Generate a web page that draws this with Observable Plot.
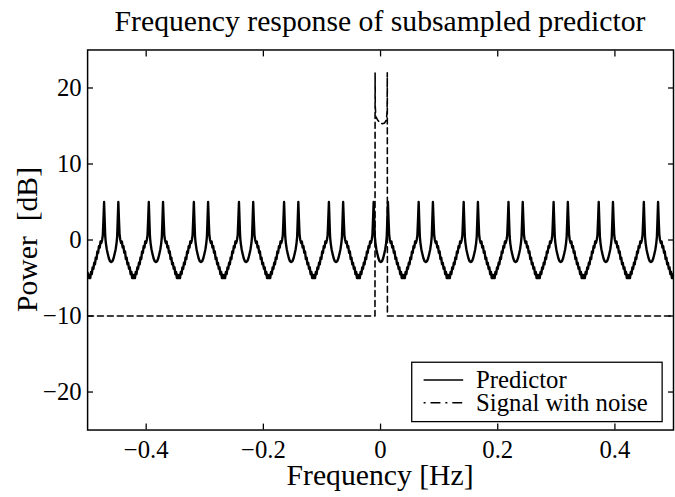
<!DOCTYPE html>
<html>
<head>
<meta charset="utf-8">
<script src="https://cdn.jsdelivr.net/npm/d3@7"></script>
<script src="https://cdn.jsdelivr.net/npm/@observablehq/plot@0.6"></script>
<style>
  html, body { margin: 0; padding: 0; background: #fff; overflow: hidden; }
  #chart { width: 675px; height: 497px; overflow: hidden; }
</style>
</head>
<body>
<div id="chart"></div>
<script>
// ---- text ----
const titleText = "Frequency response of subsampled predictor";
const xLabel = "Frequency [Hz]";
const yLabel = "Power  [dB]";
const legendLabels = ["Predictor", "Signal with noise"];

// ---- ticks ----
const xTicks = [-0.4, -0.2, 0, 0.2, 0.4];
const yTicks = [-20, -10, 0, 10, 20];

// ---- predictor: centres of the 13 peak pairs (Hz) ----
const pairCenters = [-0.4597, -0.3834, -0.3065, -0.2295, -0.1525, -0.0760, 0.0004,
                     0.0772, 0.1540, 0.2305, 0.3075, 0.3845, 0.4615];
// shape of one pair around its centre (offset in Hz, power in dB)
const shapeOffsets = [
  -0.03781, -0.03713, -0.03578, -0.03443, -0.03308, -0.03173, -0.03038, -0.02903, -0.02768,
  -0.02633, -0.02498, -0.02363, -0.02228, -0.02093, -0.01958, -0.01823, -0.01688, -0.01553,
  -0.01435, -0.01333, -0.01215, -0.01097, -0.01013, -0.00911, -0.0076, -0.00591, -0.00405,
  -0.00203, 0,
  0.00203, 0.00405, 0.00591, 0.0076, 0.00911, 0.01013, 0.01097, 0.01215, 0.01333,
  0.01435, 0.01553, 0.01688, 0.01823, 0.01958, 0.02093, 0.02228, 0.02363, 0.02498,
  0.02633, 0.02768, 0.02903, 0.03038, 0.03173, 0.03308, 0.03443, 0.03578, 0.03713, 0.03781];
const shapeDb = [
  -5.0, -4.6, -5.0, -4.2, -4.5, -3.6, -3.8, -3.0, -3.2,
  -2.3, -2.5, -1.5, -1.7, -0.8, -1.0, -0.2, -0.4, 0.0,
  0.6, 2.5, 5.0, 2.2, 0.4, -0.4, -1.2, -1.8, -2.4,
  -2.8, -2.9,
  -2.8, -2.4, -1.8, -1.2, -0.4, 0.4, 2.2, 5.0, 2.5,
  0.6, 0.0, -0.4, -0.2, -1.0, -0.8, -1.7, -1.5, -2.5,
  -2.3, -3.2, -3.0, -3.8, -3.6, -4.5, -4.2, -5.0, -4.6, -5.0];
const predictorEdgeF = [-0.5, 0.5];
const predictorEdgeDb = [-4.3, -4.5];

// ---- signal with noise ----
const signalF  = [-0.5, -0.0095, -0.0093, -0.0090, -0.0080, -0.0050, -0.0010, 0.0030, 0.0070, 0.0100, 0.0112, 0.0115, 0.0117, 0.5];
const signalDb = [-10, -10, 22, 17.5, 16.2, 15.8, 15.4, 15.3, 15.4, 15.8, 17, 22, -10, -10];

// ---- tables ----
const predRows = [];
pairCenters.forEach(c => shapeOffsets.forEach((o, i) => predRows.push({f: c + o, p: shapeDb[i]})));
predictorEdgeF.forEach((f, i) => predRows.push({f, p: predictorEdgeDb[i]}));
predRows.sort((a, b) => a.f - b.f);
const sigRows = signalF.map((f, i) => ({f, p: signalDb[i]}));

const fmt = d => (d < 0 ? "\u2212" + Math.abs(d) : String(d));
const font = "'Liberation Serif', 'Times New Roman', Times, serif";

const chart = Plot.plot({
  width: 682,
  height: 497,
  marginLeft: 88,
  marginRight: 2,
  marginTop: 50,
  marginBottom: 63,
  style: {fontFamily: font, fontSize: "25px", background: "white", color: "black", overflow: "visible"},
  x: {domain: [-0.5, 0.5]},
  y: {domain: [-25, 25]},
  marks: [
    Plot.line(sigRows, {x: "f", y: "p", stroke: "black", strokeWidth: 1.6, strokeDasharray: "6,4", clip: true}),
    Plot.line(predRows, {x: "f", y: "p", stroke: "black", strokeWidth: 2.4, strokeLinejoin: "round", clip: true}),
    Plot.frame({stroke: "black", strokeWidth: 1.5}),
    Plot.axisX(xTicks, {anchor: "bottom", tickSize: -6, tickPadding: 17, tickFormat: fmt, label: null, fontSize: 25, strokeWidth: 1.3}),
    Plot.axisX(xTicks, {anchor: "top", tickSize: -6, tickFormat: () => "", label: null, strokeWidth: 1.3}),
    Plot.axisY(yTicks, {anchor: "left", tickSize: -6, tickPadding: 12, tickFormat: fmt, label: null, fontSize: 25, strokeWidth: 1.3}),
    Plot.axisY(yTicks, {anchor: "right", tickSize: -6, tickFormat: () => "", label: null, strokeWidth: 1.3})
  ]
});

document.getElementById("chart").appendChild(chart);

const svg = d3.select(chart);
const xs = chart.scale("x");
const ys = chart.scale("y");
const cx = xs.apply(0);

svg.append("text")
  .attr("x", cx).attr("y", 31)
  .attr("text-anchor", "middle")
  .attr("font-family", font).attr("font-size", 30)
  .attr("fill", "black")
  .text(titleText);

svg.append("text")
  .attr("x", cx).attr("y", 490)
  .attr("text-anchor", "middle")
  .attr("font-family", font).attr("font-size", 30)
  .attr("fill", "black")
  .text(xLabel);

svg.append("text")
  .attr("transform", `translate(37, ${ys.apply(0)}) rotate(-90)`)
  .attr("text-anchor", "middle")
  .attr("font-family", font).attr("font-size", 30)
  .attr("fill", "black")
  .attr("xml:space", "preserve")
  .style("white-space", "pre")
  .text(yLabel);

// legend
const lg = svg.append("g").attr("text-anchor", "start");
lg.append("rect")
  .attr("x", 416).attr("y", 366).attr("width", 253).attr("height", 60)
  .attr("fill", "white").attr("stroke", "black").attr("stroke-width", 1.3);
const rowsY = [384, 407];
const dashes = [null, "2,5,10,5"];
legendLabels.forEach((t, i) => {
  lg.append("line")
    .attr("x1", 428).attr("x2", 468).attr("y1", rowsY[i]).attr("y2", rowsY[i])
    .attr("stroke", "black").attr("stroke-width", 1.5)
    .attr("stroke-dasharray", dashes[i]);
  lg.append("text")
    .attr("x", 481).attr("y", rowsY[i] + 8)
    .attr("text-anchor", "start")
    .attr("font-family", font).attr("font-size", 25)
    .attr("fill", "black")
    .text(t);
});
</script>
</body>
</html>
